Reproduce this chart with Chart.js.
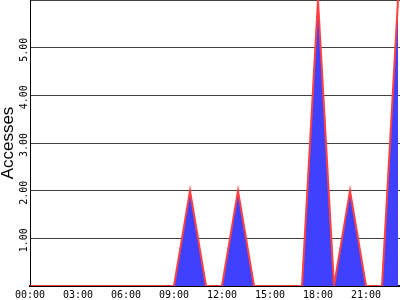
<!DOCTYPE html>
<html>
<head>
<meta charset="utf-8">
<script src="https://cdn.jsdelivr.net/npm/chart.js@4/dist/chart.umd.min.js"></script>
<style>
  html, body { margin: 0; padding: 0; background: #fff; }
  canvas { display: block; }
</style>
</head>
<body>
<canvas id="accessChart" width="400" height="300"></canvas>
<script>
// hourly access counts
const hours = [0, 1, 2, 3, 4, 5, 6, 7, 8, 9, 10, 11, 12, 13, 14, 15, 16, 17, 18, 19, 20, 21, 22, 23];
const accesses = [0, 0, 0, 0, 0, 0, 0, 0, 0, 0, 2, 0, 0, 2, 0, 0, 0, 0, 6, 0, 2, 0, 0, 6];
const hourLabels = ['00:00', '03:00', '06:00', '09:00', '12:00', '15:00', '18:00', '21:00'];
const yTickValues = [1, 2, 3, 4, 5];

const monoFont = '10px "DejaVu Sans Mono"';

// y tick labels are rotated, drawn on top of the y scale
const rotatedYLabels = {
  id: 'rotatedYLabels',
  afterDraw(chart) {
    const ctx = chart.ctx;
    const yScale = chart.scales.y;
    ctx.save();
    ctx.font = monoFont;
    ctx.fillStyle = '#000';
    ctx.textAlign = 'center';
    ctx.textBaseline = 'middle';
    yTickValues.forEach(v => {
      const y = yScale.getPixelForValue(v);
      ctx.save();
      ctx.translate(yScale.right - 6, y + 2);
      ctx.rotate(-Math.PI / 2);
      ctx.fillText(v.toFixed(2), 0, 0);
      ctx.restore();
    });
    ctx.restore();
  }
};

const ctx = document.getElementById('accessChart').getContext('2d');
new Chart(ctx, {
  type: 'line',
  data: {
    datasets: [{
      label: 'Accesses',
      data: hours.map((h, i) => ({ x: h, y: accesses[i] })),
      backgroundColor: 'rgb(64, 64, 255)',
      borderColor: 'rgb(255, 64, 64)',
      borderWidth: 2,
      pointRadius: 0,
      tension: 0,
      fill: 'origin'
    }]
  },
  options: {
    responsive: false,
    devicePixelRatio: 1,
    animation: false,
    layout: { padding: 0 },
    plugins: {
      legend: { display: false },
      tooltip: { enabled: false }
    },
    scales: {
      x: {
        type: 'linear',
        min: 0,
        max: 23.125,
        afterFit(scale) { scale.height = 14; },
        grid: { display: false, drawTicks: false },
        border: { color: '#000', width: 2 },
        ticks: {
          stepSize: 3,
          includeBounds: false,
          autoSkip: false,
          maxRotation: 0,
          padding: 3,
          color: '#000',
          font: { family: 'DejaVu Sans Mono', size: 10 },
          callback: value => hourLabels[value / 3]
        }
      },
      y: {
        min: 0,
        max: 6,
        afterFit(scale) { scale.width = 30; },
        grid: { color: '#404040', lineWidth: 1, drawTicks: false },
        border: { color: '#000', width: 1 },
        ticks: { stepSize: 1, display: false },
        title: {
          display: true,
          text: 'Accesses',
          color: '#000',
          padding: 0,
          font: { family: 'Liberation Sans', size: 17, lineHeight: 1 }
        }
      }
    }
  },
  plugins: [rotatedYLabels]
});
</script>
</body>
</html>
